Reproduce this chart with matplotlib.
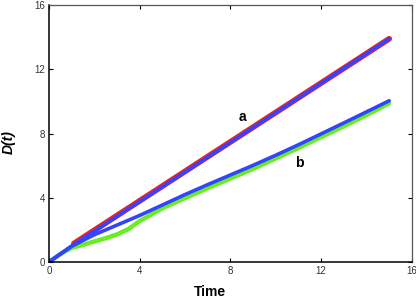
import matplotlib
matplotlib.use("Agg")
import matplotlib.pyplot as plt

plt.rcParams['font.family'] = ['Liberation Sans', 'DejaVu Sans']

# curve a (red + blue on top)
t_red = [1.1, 15.0]
d_red = [1.15, 13.9]
t_a = [0.0, 1.0, 15.0]
d_a = [0.0, 1.0, 13.9]

# curve b (green underneath, blue on top)
t_b = [0.0, 1.0, 2.0, 3.0, 4.0, 5.0, 6.0, 7.0, 8.0, 9.0, 10.0, 11.0, 12.0, 13.0, 14.0, 15.0]
d_b = [0.0, 0.98, 1.7, 2.3, 2.9, 3.55, 4.2, 4.82, 5.42, 6.02, 6.65, 7.3, 7.98, 8.66, 9.35, 10.04]
t_g = [0.0, 0.5, 1.0, 1.5, 2.0, 2.5, 3.0, 3.5, 4.0, 4.5, 5.0, 6.0, 7.0, 8.0, 9.0, 10.0, 11.0, 12.0, 13.0, 14.0, 15.0]
d_g = [0.0, 0.5, 0.88, 1.07, 1.28, 1.48, 1.72, 2.05, 2.55, 2.95, 3.35, 3.98, 4.6, 5.2, 5.8, 6.45, 7.1, 7.78, 8.45, 9.15, 9.88]

ticks = [0, 4, 8, 12, 16]

fig = plt.figure(figsize=(4.16, 3.0), dpi=100)
ax = fig.add_axes([0.1178, 0.1267, 0.8722, 0.8563])

ax.plot(t_g, d_g, color="#66ee22", lw=3.2, solid_capstyle="round")
ax.plot(t_red, d_red, color="#ee2222", lw=4.2, solid_capstyle="round")
ax.plot(t_a, d_a, color="#3344ff", lw=2.6, solid_capstyle="round")
ax.plot(t_b, d_b, color="#3344ff", lw=2.6, solid_capstyle="round")

ax.text(8.55, 9.03, "a", fontsize=10, fontweight="bold", ha="center", va="center")
ax.text(11.02, 6.16, "b", fontsize=10, fontweight="bold", ha="center", va="center")

ax.set_xlim(0, 16)
ax.set_ylim(0, 16)
ax.set_xticks(ticks)
ax.set_yticks(ticks)
ax.tick_params(direction="in", length=3, width=0.8, labelsize=7, labelcolor="#333333",
               top=True, right=True, pad=3)
for s in ["left", "bottom"]:
    ax.spines[s].set_color("black")
    ax.spines[s].set_linewidth(1.1)
for s in ["top", "right"]:
    ax.spines[s].set_color("#555555")
    ax.spines[s].set_linewidth(0.9)

fig.text(0.505, 0.027, "Time", fontsize=10, fontweight="bold", ha="center", va="center")
fig.text(0.022, 0.527, "D(t)", fontsize=10, fontweight="bold", fontstyle="italic",
         rotation=90, ha="center", va="center")

fig.savefig("out.png", dpi=100)
